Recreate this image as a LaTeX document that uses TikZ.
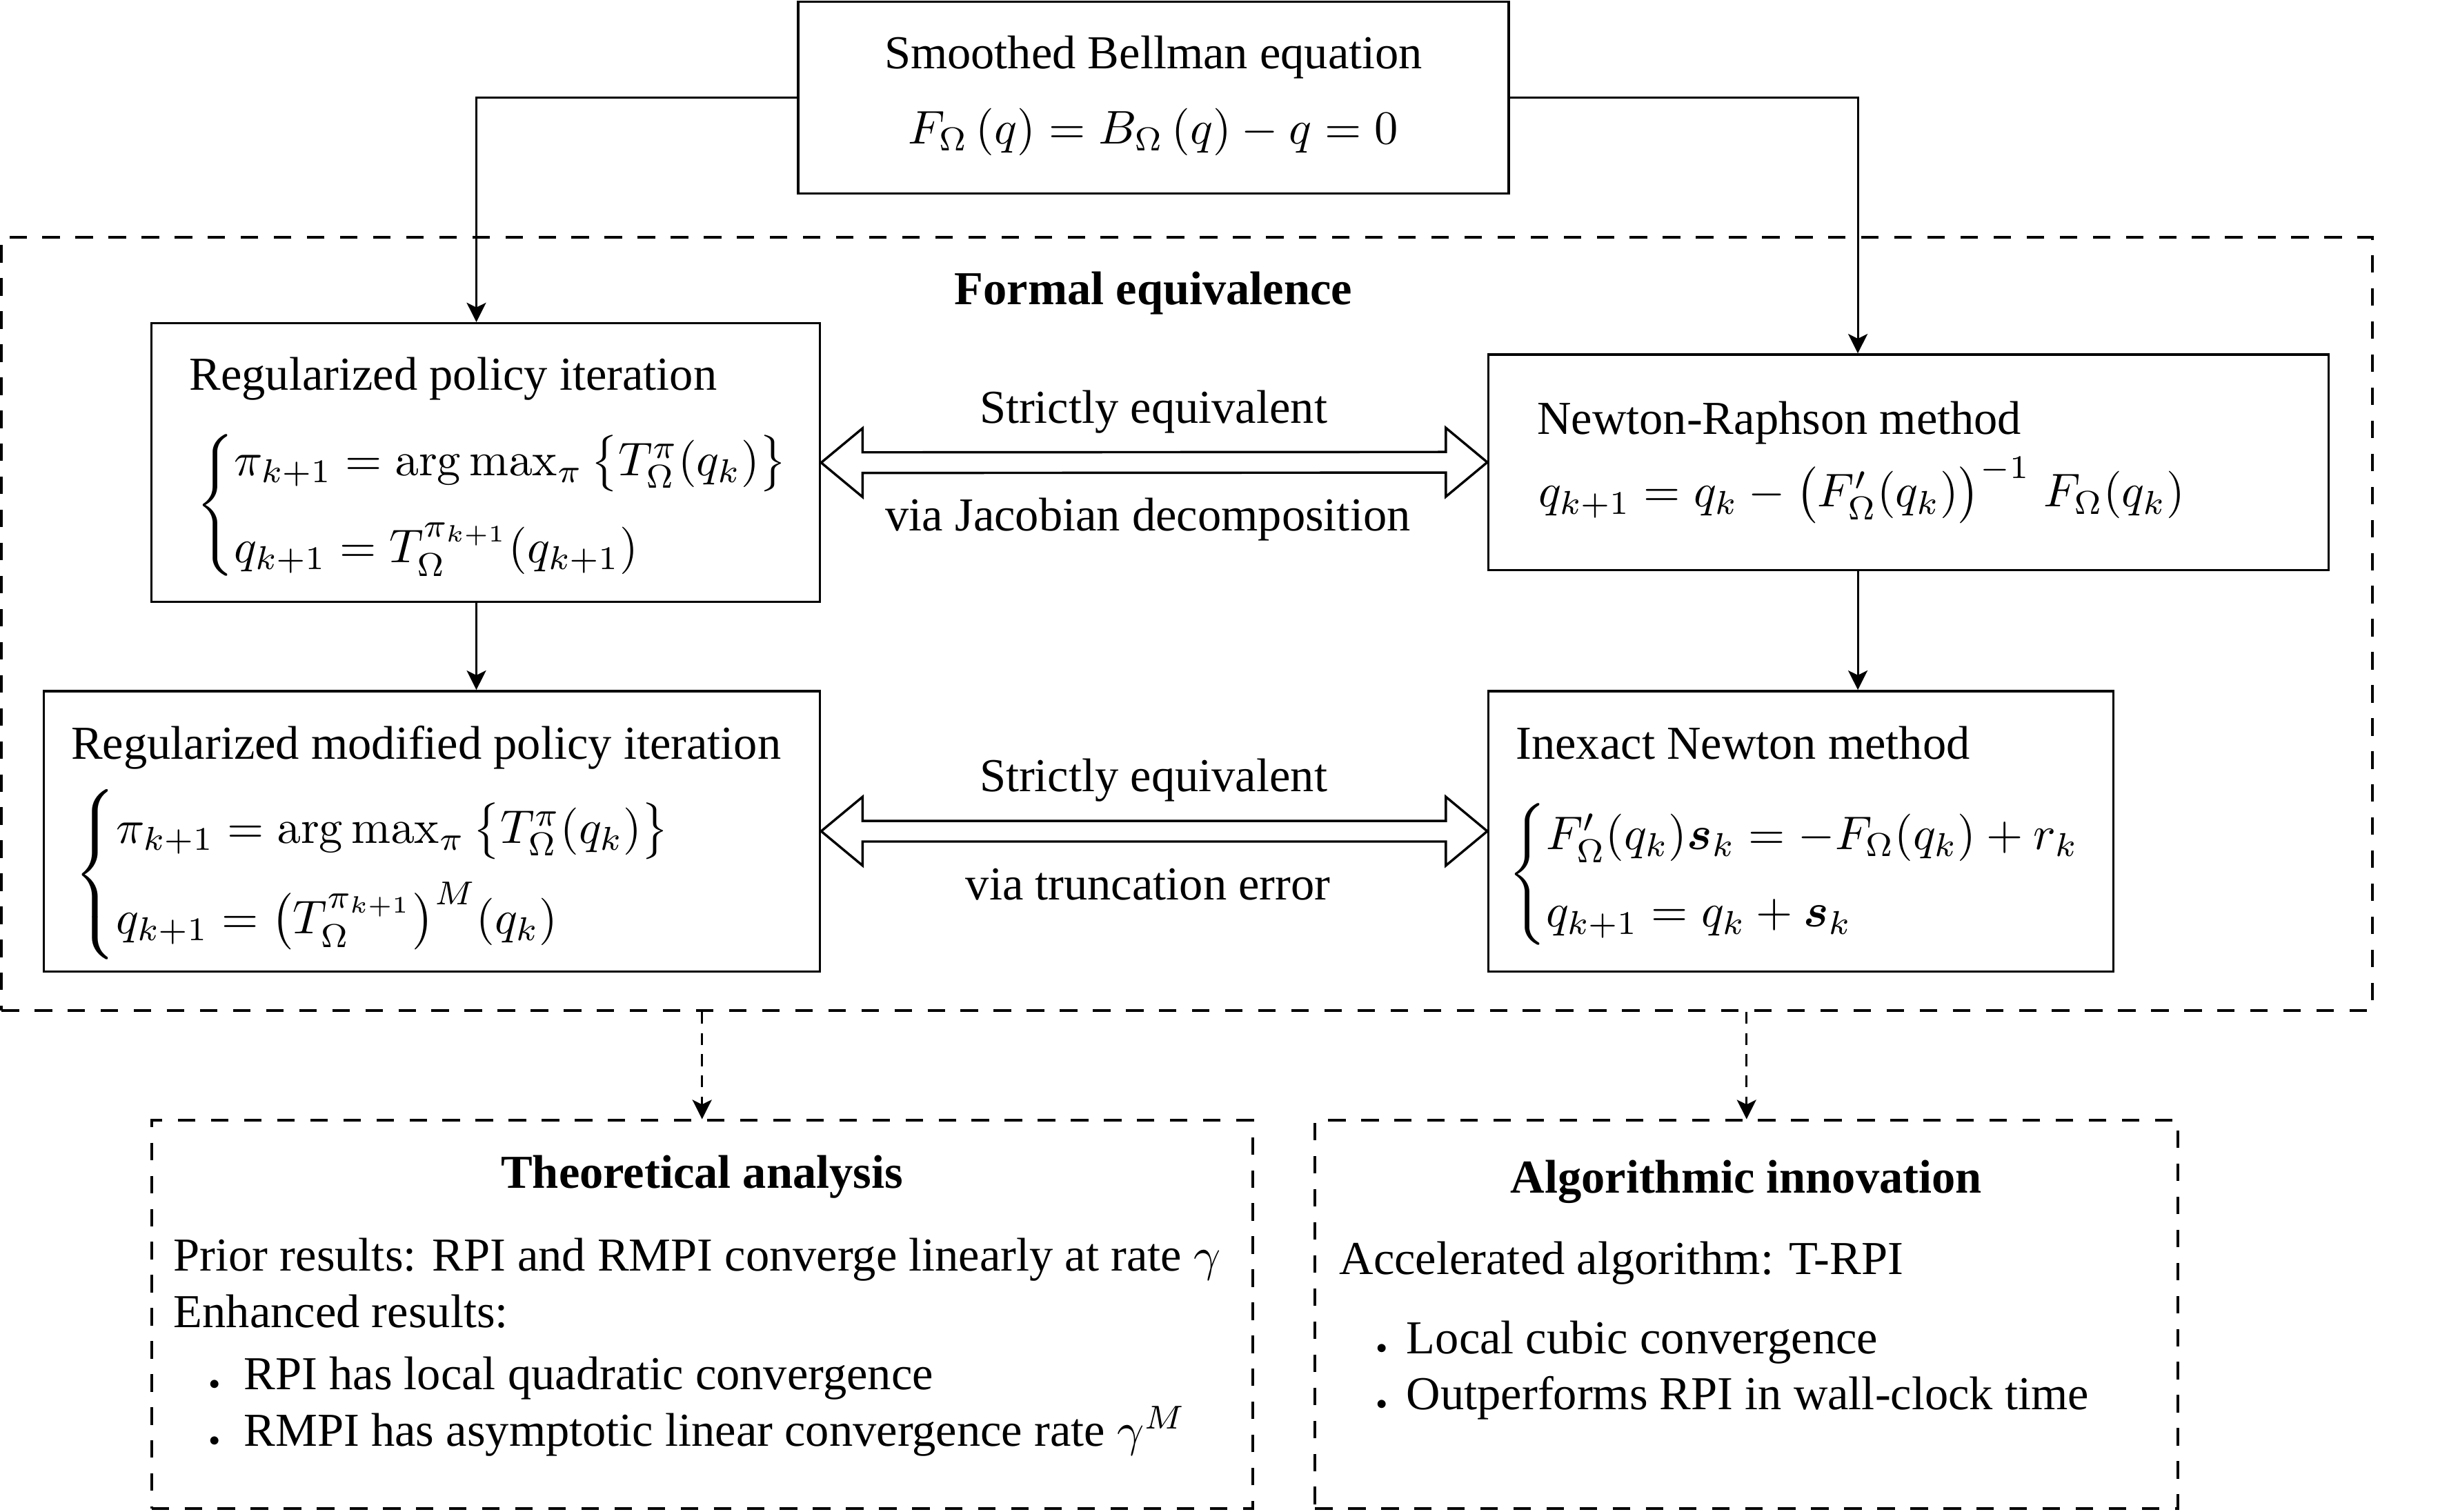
\documentclass[tikz,border=0pt]{standalone}
\usepackage{amsmath}
\usepackage{graphicx}
\usepackage[no-math]{fontspec}
\setmainfont{Liberation Serif}
\usetikzlibrary{arrows.meta,calc,fit}
\newcommand\fs{\fontsize{10}{12}\selectfont}
\newcommand\bul[1]{\makebox[#1][l]{\scalebox{0.45}{$\bullet$}}}
\begin{document}
\begin{tikzpicture}[x=0.3306pt,y=-0.3306pt,
  box/.style={draw, line width=0.5pt, inner sep=0pt},
  dbox/.style={draw, line width=0.58pt, dash pattern=on 3.7pt off 3.3pt, inner sep=0pt},
  txt/.style={inner sep=0pt, font=\fs},
  btxt/.style={inner sep=0pt, font=\fs\bfseries},
  arr/.style={-{Stealth[length=4.1pt,width=4.1pt,inset=1pt]}, line width=0.42pt},
  darr/.style={arr, dash pattern=on 2.5pt off 2pt},
  fat/.style={draw, line width=0.5pt, line join=miter}]
\useasboundingbox (0,0) rectangle (1568,968);
% frames
\node[dbox, fit={(1,152)(1519,647)}] (outer) {};
\node[box, fit={(511,1)(966,124)}] (top) {};
\node[box, fit={(97,207)(525,385.5)}] (rpi) {};
\node[box, fit={(953,227)(1491,365)}] (nr) {};
\node[box, fit={(28,442.5)(525,622)}] (rmpi) {};
\node[box, fit={(953,442.5)(1353,622)}] (inm) {};
\node[dbox, fit={(97,717.5)(802,966)}] (theo) {};
\node[dbox, fit={(842,717.5)(1394.5,966)}] (algo) {};
% top box
\node[txt, anchor=base] (topT) at (738.5,44) {Smoothed Bellman equation};
\node[txt, anchor=base] (topE) at (738.5,92) {$F_\Omega\left(q\right)=B_\Omega\left(q\right)-q=0$};
\node[btxt, anchor=base] (fe) at (738.5,195) {Formal equivalence};
% RPI
\node[txt, anchor=base west] (rpiT) at (120.7,250) {Regularized policy iteration};
\node[txt, anchor=west] (rpiE) at (125,323.5) {$\begin{cases}\pi_{k+1}=\arg\max\nolimits_\pi\,\bigl\{T_\Omega^\pi(q_k)\bigr\}\\[4pt] q_{k+1}=T_\Omega^{\pi_{k+1}}(q_{k+1})\end{cases}$};
% NR
\node[txt, anchor=base west] (nrT) at (983.6,278) {Newton-Raphson method};
\node[txt, anchor=base west] (nrE) at (984.5,324.6) {$q_{k+1}=q_k-\bigl(F'_\Omega(q_k)\bigr)^{-1}\;F_\Omega(q_k)$};
% RMPI
\node[txt, anchor=base west] (rmpiT) at (45,486) {Regularized modified policy iteration};
\node[txt, anchor=west] (rmpiE) at (47,560) {$\begin{cases}\pi_{k+1}=\arg\max\nolimits_\pi\,\bigl\{T_\Omega^\pi(q_k)\bigr\}\\[4pt] q_{k+1}={\left(T_\Omega^{\pi_{k+1}}\right)}^M(q_k)\end{cases}$};
% INM
\node[txt, anchor=base west] (inmT) at (970,486) {Inexact Newton method};
\node[txt, anchor=west] (inmE) at (965,560) {$\begin{cases}F'_\Omega(q_k)\boldsymbol{s}_k=-F_\Omega(q_k)+r_k\\[2pt] q_{k+1}=q_k+\boldsymbol{s}_k\end{cases}$};
% labels of double arrows
\node[txt, anchor=base] (l1) at (738.5,271) {Strictly equivalent};
\node[txt, anchor=base] (l2) at (735,340) {via Jacobian decomposition};
\node[txt, anchor=base] (l3) at (738.5,507) {Strictly equivalent};
\node[txt, anchor=base] (l4) at (735,576) {via truncation error};
% theoretical analysis
\node[btxt, anchor=base] (thT) at (449.5,761) {Theoretical analysis};
\node[txt, anchor=base west] (th1) at (110.6,814) {Prior results: RPI and RMPI converge linearly at rate $\gamma$};
\node[txt, anchor=base west] (th2) at (110.6,850) {Enhanced results:};
\node[txt, anchor=base west] (th3) at (133.6,890) {\bul{7.3pt}RPI has local quadratic convergence};
\node[txt, anchor=base west] (th4) at (133.6,926) {\bul{7.3pt}RMPI has asymptotic linear convergence rate $\gamma^M$};
% algorithmic innovation
\node[btxt, anchor=base] (alT) at (1118,764) {Algorithmic innovation};
\node[txt, anchor=base west] (al1) at (857,816) {Accelerated algorithm: T-RPI};
\node[txt, anchor=base west] (al2) at (880.6,866.6) {\bul{6.4pt}Local cubic convergence};
\node[txt, anchor=base west] (al3) at (880.6,902.5) {\bul{6.4pt}Outperforms RPI in wall-clock time};
% connectors
\coordinate (cL) at (305,0);
\coordinate (cR) at (1189.5,0);
\draw[arr] (top.west) -| (rpi.north -| cL);
\draw[arr] (top.east) -| (nr.north -| cR);
\draw[arr] (rpi.south -| cL) -- (rmpi.north -| cL);
\draw[arr] (nr.south -| cR) -- (inm.north -| cR);
\draw[darr] (outer.south -| theo.north) -- (theo.north);
\draw[darr] (outer.south -| algo.north) -- (algo.north);
% fat double arrows
\draw[fat] (rpi.east) -- ++(26.5,-22) -- ++(0,15.4) -- ($(nr.west)+(-26.5,-6.6)$) -- ++(0,-15.4) -- (nr.west) -- ++(-26.5,22) -- ++(0,-15.4) -- ($(rpi.east)+(26.5,6.6)$) -- ++(0,15.4) -- cycle;
\draw[fat] (rmpi.east) -- ++(26.5,-22) -- ++(0,15.4) -- ($(inm.west)+(-26.5,-6.6)$) -- ++(0,-15.4) -- (inm.west) -- ++(-26.5,22) -- ++(0,-15.4) -- ($(rmpi.east)+(26.5,6.6)$) -- ++(0,15.4) -- cycle;
\end{tikzpicture}
\end{document}
